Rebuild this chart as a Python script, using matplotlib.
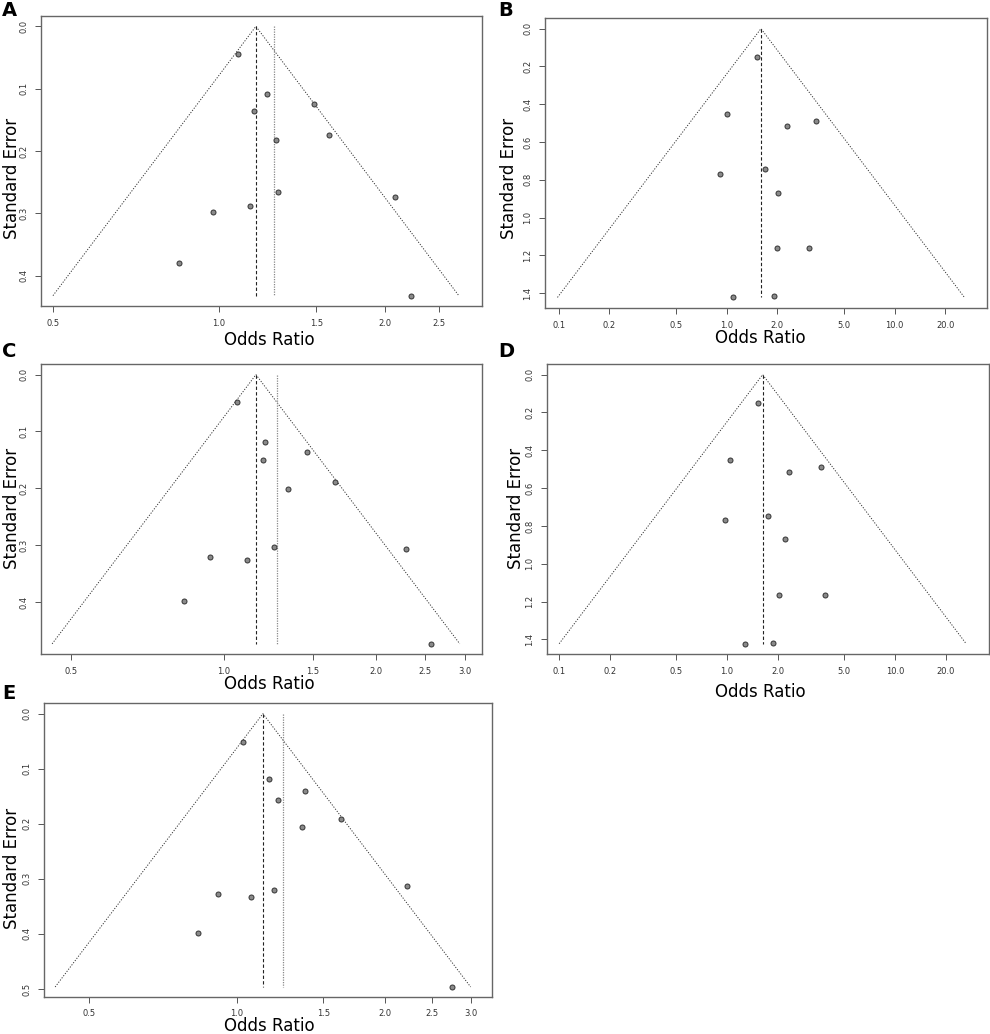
import numpy as np
import matplotlib
matplotlib.use("Agg")
import matplotlib.pyplot as plt

# funnel plot data (odds ratio, standard error)
or_a = [1.08, 1.223, 1.155, 1.483, 1.581, 1.268, 1.277, 2.085, 1.14, 0.974, 0.847, 2.226]
se_a = [0.044, 0.109, 0.135, 0.124, 0.174, 0.183, 0.266, 0.2745, 0.288, 0.298, 0.380, 0.432]
est_a = 1.166
est2_a = 1.258

or_b = [1.522, 1.0, 3.42, 2.296, 0.908, 1.699, 2.01, 2.0, 3.09, 1.091, 1.913]
se_b = [0.150, 0.4525, 0.4895, 0.514, 0.768, 0.741, 0.868, 1.162, 1.160, 1.423, 1.417]
est_b = 1.60

or_c = [1.061, 1.205, 1.198, 1.463, 1.656, 1.340, 1.257, 2.297, 0.941, 1.112, 0.834, 2.57]
se_c = [0.049, 0.118, 0.151, 0.1365, 0.1886, 0.201, 0.3034, 0.3063, 0.3215, 0.3262, 0.3988, 0.4735]
est_c = 1.158
est2_c = 1.274

or_d = [1.53, 1.047, 3.64, 2.35, 0.969, 1.762, 2.224, 2.03, 3.85, 1.28, 1.87]
se_d = [0.150, 0.4525, 0.4895, 0.514, 0.7695, 0.745, 0.868, 1.1675, 1.164, 1.423, 1.4175]
est_d = 1.63

or_e = [1.0285, 1.162, 1.212, 1.379, 1.63, 1.36, 1.191, 2.22, 0.915, 1.068, 0.834, 2.741]
se_e = [0.051, 0.1195, 0.156, 0.140, 0.1917, 0.205, 0.320, 0.3125, 0.3277, 0.333, 0.3987, 0.4964]
est_e = 1.131
est2_e = 1.244

xt_small = [0.5, 1.0, 1.5, 2.0, 2.5]
xt_small3 = [0.5, 1.0, 1.5, 2.0, 2.5, 3.0]
xt_wide = [0.1, 0.2, 0.5, 1.0, 2.0, 5.0, 10.0, 20.0]
yt_a = [0.0, 0.1, 0.2, 0.3, 0.4]
yt_b = [0.0, 0.2, 0.4, 0.6, 0.8, 1.0, 1.2, 1.4]
yt_e = [0.0, 0.1, 0.2, 0.3, 0.4, 0.5]

W, H = 990, 1034
fig = plt.figure(figsize=(W / 100, H / 100), dpi=100)


def box(x0, y0, x1, y1):
    return [x0 / W, 1 - y1 / H, (x1 - x0) / W, (y1 - y0) / H]


def funnel(ax, ors, ses, est, est2, xlim_ln, ylim, xt, yt):
    smax = max(ses)
    lo = est * np.exp(-1.96 * smax)
    hi = est * np.exp(1.96 * smax)
    ax.plot([lo, est, hi], [smax, 0, smax], ls=(0, (1.2, 1.6)), lw=0.7, color="#333333")
    ax.plot([est, est], [0, smax], ls=(0, (3, 2)), lw=0.8, color="#222222")
    if est2 is not None:
        ax.plot([est2, est2], [0, smax], ls=(0, (1, 1)), lw=0.9, color="#888888")
    ax.plot(ors, ses, "o", ms=3.6, mfc="#8a8a8a", mec="#333333", mew=0.7, ls="none")
    ax.set_xscale("log")
    ax.set_xlim(np.exp(xlim_ln[0]), np.exp(xlim_ln[1]))
    ax.set_ylim(ylim[1], ylim[0])
    ax.minorticks_off()
    ax.set_xticks(xt)
    ax.set_xticklabels(["%.1f" % v for v in xt])
    ax.set_yticks(yt)
    ax.set_yticklabels(["%.1f" % v for v in yt], rotation=90, va="center")
    ax.tick_params(labelsize=6, length=4, width=0.7, color="#555555", labelcolor="#333333", pad=5)
    for s in ax.spines.values():
        s.set_color("#666666")
        s.set_linewidth(1.0)


panels = [
    ("A", box(41, 16, 482, 306), or_a, se_a, est_a, est2_a, (-0.743, 1.097), (-0.0166, 0.4486), xt_small, yt_a,
     (2, 1), (12, 178), (269, 340)),
    ("B", box(545, 18, 987, 308), or_b, se_b, est_b, None, (-2.49, 3.568), (-0.0563, 1.479), xt_wide, yt_b,
     (498, 1), (509, 178), (760, 338)),
    ("C", box(41, 364, 482, 654), or_c, se_c, est_c, est2_c, (-0.832, 1.176), (-0.0187, 0.4914), xt_small3, yt_a,
     (2, 342), (12, 508), (269, 684)),
    ("D", box(547, 364, 989, 654), or_d, se_d, est_d, None, (-2.467, 3.591), (-0.0563, 1.4774), xt_wide, yt_b,
     (498, 342), (516, 508), (760, 692)),
    ("E", box(44, 703, 492, 997), or_e, se_e, est_e, est2_e, (-0.902, 1.196), (-0.0194, 0.5146), xt_small3, yt_e,
     (2, 684), (12, 868), (269, 1026)),
]

for lab, rect, ors, ses, est, est2, xl, yl, xt, yt, lpos, ypos, xpos in panels:
    ax = fig.add_axes(rect)
    funnel(ax, ors, ses, est, est2, xl, yl, xt, yt)
    fig.text(lpos[0] / W, 1 - lpos[1] / H, lab, fontsize=14, fontweight="bold", ha="left", va="top")
    fig.text(ypos[0] / W, 1 - ypos[1] / H, "Standard Error", fontsize=12, rotation=90, ha="center", va="center")
    fig.text(xpos[0] / W, 1 - xpos[1] / H, "Odds Ratio", fontsize=12, ha="center", va="center")

fig.savefig("out.png", dpi=100)
